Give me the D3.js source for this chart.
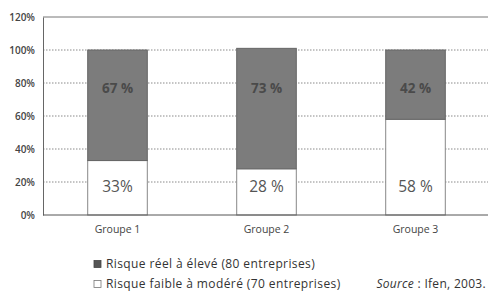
<!DOCTYPE html>
<html><head><meta charset="utf-8">
<script src="https://cdn.jsdelivr.net/npm/d3@7"></script>
<style>
body{margin:0;background:#fff;}
svg{display:block;font-family:"Open Sans","Noto Sans",sans-serif;}
</style></head>
<body><svg id="c" width="488" height="293"></svg>
<script>
const categories = ["Groupe 1", "Groupe 2", "Groupe 3"];
const faible = [33, 28, 58];        // Risque faible à modéré (bottom, white)
const reel = [67, 73, 42];          // Risque réel à élevé (top, dark)
const faibleLabels = ["33%", "28 %", "58 %"];
const reelLabels = ["67 %", "73 %", "42 %"];
const yTicks = [0, 20, 40, 60, 80, 100, 120];
const legendLabels = ["Risque réel à élevé (80 entreprises)", "Risque faible à modéré (70 entreprises)"];

const svg = d3.select("#c");
const L = 43, R = 490, T = 17, B = 215;
const x = d3.scaleBand().domain(categories).range([L, R]).paddingInner(0.6).paddingOuter(0.3);
const y = d3.scaleLinear().domain([0, 120]).range([B, T]);

// gridlines dotted
svg.append("g").selectAll("line").data(yTicks.filter(d => d > 0 && d < 120)).join("line")
  .attr("x1", L).attr("x2", R).attr("y1", d => y(d)).attr("y2", d => y(d))
  .attr("stroke", "#8a8a8a").attr("stroke-width", 1).attr("stroke-dasharray", "1.5,1.5");
// top border
svg.append("line").attr("x1", L).attr("x2", R).attr("y1", y(120)).attr("y2", y(120)).attr("stroke", "#777").attr("stroke-width", 1);

// y axis labels
const yAxis = d3.axisLeft(y).tickValues(yTicks).tickFormat(d => d + "%").tickSize(0).tickPadding(8);
const ga = svg.append("g").attr("transform", `translate(${L},0)`).call(yAxis);
ga.select(".domain").attr("stroke", "#666");
ga.selectAll("text").attr("font-size", 10).attr("font-weight", 600).attr("fill", "#444").attr("font-family", "'Open Sans',sans-serif");

// bars
const g = svg.append("g");
categories.forEach((c, i) => {
  g.append("rect").attr("x", x(c)).attr("width", x.bandwidth())
    .attr("y", y(faible[i])).attr("height", y(0) - y(faible[i]))
    .attr("fill", "#fff").attr("stroke", "#888").attr("stroke-width", 1);
  g.append("rect").attr("x", x(c)).attr("width", x.bandwidth())
    .attr("y", y(faible[i] + reel[i])).attr("height", y(faible[i]) - y(faible[i] + reel[i]))
    .attr("fill", "#7c7c7c").attr("stroke", "#666").attr("stroke-width", 1);
  g.append("text").attr("x", x(c) + x.bandwidth() / 2).attr("y", y(77)).attr("dy", "0.35em")
    .attr("text-anchor", "middle").attr("font-size", 13.5).attr("font-weight", 700).attr("fill", "#4a4a4a")
    .text(reelLabels[i]);
  g.append("text").attr("x", x(c) + x.bandwidth() / 2).attr("y", y(17.5)).attr("dy", "0.35em")
    .attr("text-anchor", "middle").attr("font-size", 15.5).attr("fill", "#555")
    .text(faibleLabels[i]);
});

// x axis baseline
svg.append("line").attr("x1", L).attr("x2", R).attr("y1", y(0)).attr("y2", y(0)).attr("stroke", "#555").attr("stroke-width", 1);
const xAxis = d3.axisBottom(x).tickSize(0).tickPadding(11);
const gx = svg.append("g").attr("transform", `translate(0,${B})`).call(xAxis);
gx.select(".domain").remove();
gx.selectAll("text").attr("font-size", 10.5).attr("fill", "#444").attr("font-family", "'Open Sans',sans-serif");

// legend
const lg = svg.append("g");
const legFill = ["#555", "#fff"];
legendLabels.forEach((t, i) => {
  const yy = 264 + i * 20;
  lg.append("rect").attr("x", 94).attr("y", yy - 3.5).attr("width", 7).attr("height", 7)
    .attr("fill", legFill[i]).attr("stroke", i ? "#777" : "#444").attr("stroke-width", 0.8);
  lg.append("text").attr("x", 106).attr("y", yy).attr("dy", "0.35em").attr("font-size", 12)
    .attr("letter-spacing", 0.4).attr("fill", "#333").text(t);
});
const src = svg.append("text").attr("x", 486).attr("y", 284).attr("dy", "0.35em").attr("text-anchor", "end")
  .attr("font-size", 12).attr("letter-spacing", 0.3).attr("fill", "#333");
src.append("tspan").attr("font-style", "italic").text("Source");
src.append("tspan").text(" : Ifen, 2003.");
</script></body></html>
